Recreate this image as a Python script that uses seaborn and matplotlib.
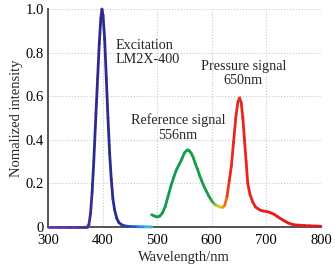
import matplotlib
matplotlib.use('Agg')
import matplotlib.pyplot as plt
import pandas as pd
import seaborn as sns
from matplotlib.colors import LinearSegmentedColormap

# Excitation LED spectrum (LM2X-400)
exc_nm = [300, 320, 340, 355, 365, 372, 375, 378, 381, 384, 388, 391, 394, 397, 399,
          401, 404, 407, 410, 413, 416, 419, 422, 426, 430, 435, 440, 450, 465, 478, 490]
exc_int = [0, 0, 0, 0, 0, 0.0, 0.01, 0.06, 0.16, 0.30, 0.52, 0.68, 0.84, 0.96, 1.0,
           0.97, 0.86, 0.68, 0.50, 0.34, 0.22, 0.13, 0.08, 0.04, 0.02, 0.01, 0.005, 0.002,
           0.001, 0.0005, 0.0]

# Emission spectrum (reference + pressure signal)
emi_nm = [490, 495, 500, 505, 510, 515, 520, 525, 530, 535, 540, 545, 550, 555, 558,
          562, 566, 570, 574, 578, 582, 586, 590, 595, 600, 605, 610, 615, 620, 624,
          628, 632, 636, 640, 644, 648, 651, 654, 657, 660, 663, 666, 670, 675, 680,
          685, 690, 695, 700, 705, 710, 715, 720, 725, 730, 735, 740, 745, 750, 760,
          770, 780, 790, 800]
emi_int = [0.056, 0.050, 0.046, 0.050, 0.065, 0.095, 0.14, 0.185, 0.225, 0.26, 0.285, 0.31,
           0.34, 0.353, 0.352, 0.34, 0.32, 0.29, 0.265, 0.235, 0.21, 0.185, 0.165, 0.14,
           0.12, 0.105, 0.097, 0.092, 0.090, 0.10, 0.14, 0.21, 0.28, 0.39, 0.50, 0.575,
           0.592, 0.57, 0.50, 0.40, 0.30, 0.20, 0.15, 0.115, 0.092, 0.083, 0.076, 0.073,
           0.071, 0.068, 0.063, 0.057, 0.048, 0.040, 0.032, 0.025, 0.018, 0.014, 0.010,
           0.008, 0.006, 0.005, 0.004, 0.003]

x_ticks = [300, 400, 500, 600, 700, 800]
y_ticks = [0, 0.2, 0.4, 0.6, 0.8, 1.0]
y_tick_labels = ['0', '0.2', '0.4', '0.6', '0.8', '1.0']

# wavelength (nm) -> colour ramps
NM_LO, NM_HI = 300, 800
exc_stops = [(300, '#6a3d9a'), (370, '#50309a'), (382, '#2c2a8e'), (430, '#2a2c92'),
             (455, '#2152b8'), (475, '#2a9ad8'), (490, '#3ccbe2'), (800, '#3ccbe2')]
emi_stops = [(300, '#0e9a50'), (490, '#0e9a50'), (600, '#18a048'), (609, '#8cc43a'),
             (616, '#e2d020'), (623, '#f08a1a'), (631, '#e82a1c'), (800, '#e8141c')]


def ramp(name, stops):
    return LinearSegmentedColormap.from_list(
        name, [((w - NM_LO) / (NM_HI - NM_LO), c) for w, c in stops])


def segment_frame(nm, val, cmap, prefix):
    rows, pal = [], {}
    for i in range(len(nm) - 1):
        key = f'{prefix}{i}'
        pal[key] = cmap((0.5 * (nm[i] + nm[i + 1]) - NM_LO) / (NM_HI - NM_LO))
        rows.append((nm[i], val[i], key))
        rows.append((nm[i + 1], val[i + 1], key))
    return pd.DataFrame(rows, columns=['nm', 'val', 'seg']), pal


sns.set_theme(style='whitegrid')
plt.rcParams['font.family'] = ['Liberation Serif', 'DejaVu Serif']

fig = plt.figure(figsize=(3.35, 2.67), dpi=100)
ax = fig.add_axes([0.143, 0.150, 0.815, 0.816])

for nm, val, stops, p in [(exc_nm, exc_int, exc_stops, 'a'), (emi_nm, emi_int, emi_stops, 'b')]:
    df, pal = segment_frame(nm, val, ramp(p, stops), p)
    sns.lineplot(data=df, x='nm', y='val', hue='seg', palette=pal, legend=False,
                 estimator=None, sort=False, linewidth=2.0, solid_capstyle='round',
                 clip_on=False, zorder=4, ax=ax)

ax.set_xlim(300, 800)
ax.set_ylim(0, 1.0)
ax.set_xticks(x_ticks)
ax.set_yticks(y_ticks)
ax.set_yticklabels(y_tick_labels)
ax.set_xlabel('Wavelength/nm', fontsize=10.5, labelpad=3)
ax.set_ylabel('Nomalized intensity', fontsize=10.5, labelpad=2)
ax.tick_params(axis='both', direction='in', length=2.5, width=0.8, color='#888888',
               labelsize=10.5, labelcolor='black')
ax.tick_params(axis='x', pad=5)
ax.tick_params(axis='y', pad=3)
ax.grid(True, color='#c8c8c8', linestyle=':', linewidth=0.8)
ax.set_facecolor('white')
for s in ['top', 'right']:
    ax.spines[s].set_visible(False)
for s in ['left', 'bottom']:
    ax.spines[s].set_color('#4a5858')
    ax.spines[s].set_linewidth(1.4)

ax.text(424, 0.80, 'Excitation\nLM2X-400', ha='left', va='center', fontsize=10.2,
        linespacing=1.15)
ax.text(538, 0.455, 'Reference signal\n556nm', ha='center', va='center', fontsize=10.2,
        linespacing=1.15)
ax.text(658, 0.705, 'Pressure signal\n650nm', ha='center', va='center', fontsize=10.2,
        linespacing=1.15)

fig.savefig('out.png', dpi=100)
